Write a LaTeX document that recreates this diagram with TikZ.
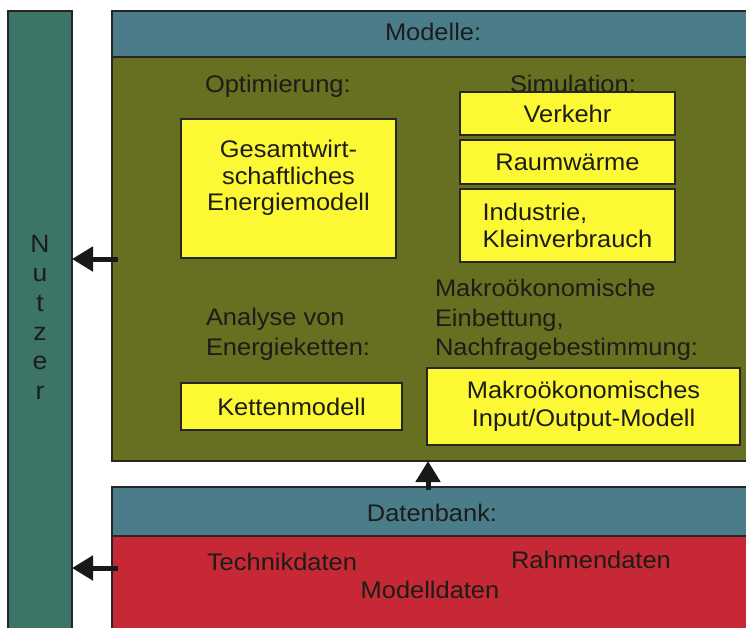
\documentclass[tikz,border=0pt]{standalone}
\usepackage{fontspec}
\setmainfont[FakeStretch=1.06]{Liberation Sans}
\usetikzlibrary{arrows.meta}
\definecolor{hdrblue}{RGB}{74,124,138}
\definecolor{nutzgreen}{RGB}{60,116,104}
\definecolor{olivebody}{RGB}{102,112,32}
\definecolor{dbred}{RGB}{198,40,54}
\definecolor{boxyellow}{RGB}{252,248,52}
\definecolor{txt}{RGB}{28,28,24}
\begin{document}
\begin{tikzpicture}[x=1pt,y=-1pt,
  panel/.style={draw=black!85, line width=1.2pt, inner sep=0pt, outer sep=0pt, anchor=north west},
  ybox/.style={panel, fill=boxyellow, align=center, text=txt, font=\fontsize{24}{27}\selectfont},
  lbl/.style={inner sep=0pt, outer sep=0pt, text=txt, font=\fontsize{24}{29.5}\selectfont},
  arr/.style={line width=5pt, draw=black!90, -{Triangle[length=21pt,width=24pt]}}]
\clip (0,0) rectangle (746,627);
\fill[white] (0,0) rectangle (746,627);

% user bar
\node[panel, fill=nutzgreen, minimum width=64pt, minimum height=640pt] (nutzer) at (8,11) {};
\node[lbl, anchor=north, align=center, font=\fontsize{25}{29.4}\selectfont] (nutzertext) at (40,235) {N\\u\\t\\z\\e\\r};

% models
\node[panel, fill=hdrblue, minimum width=650pt, minimum height=46pt] (modhead) at (112,11) {};
\node[panel, fill=olivebody, minimum width=650pt, minimum height=404pt] (modbody) at (112,57) {};
\node[lbl, anchor=base west] (modtitle) at (385,40) {Modelle:};

\node[lbl, anchor=base west] (optim) at (205,92) {Optimierung:};
\node[lbl, anchor=base west] (simul) at (510,92) {Simulation:};

\node[ybox, minimum width=215pt, minimum height=139pt] (gesamt) at (181,119) {};
\node[lbl, anchor=north, align=center, font=\fontsize{24}{26.5}\selectfont] (gesamttext) at (288.5,140.5) {Gesamtwirt-\\schaftliches\\Energiemodell};

\node[ybox, minimum width=215pt, minimum height=43pt] (verkehr) at (460,92) {Verkehr};
\node[ybox, minimum width=215pt, minimum height=44pt] (raum) at (460,140) {Raumwärme};
\node[ybox, minimum width=215pt, minimum height=73pt, align=left] (industrie) at (460,189) {Industrie,\\Kleinverbrauch};

\node[lbl, anchor=north west, align=left] (makrolbl) at (435,279.5) {Makroökonomische\\Einbettung,\\Nachfragebestimmung:};
\node[lbl, anchor=north west, align=left] (analyse) at (206,308.5) {Analyse von\\Energieketten:};

\node[ybox, minimum width=221pt, minimum height=47pt] (ketten) at (181,383) {Kettenmodell};
\node[ybox, minimum width=313pt, minimum height=77pt, font=\fontsize{24}{28}\selectfont] (makro) at (427,368) {Makroökonomisches\\Input/Output-Modell};

% database
\node[panel, fill=hdrblue, minimum width=650pt, minimum height=49pt] (dbhead) at (112,487) {};
\node[panel, fill=dbred, minimum width=650pt, minimum height=110pt] (dbbody) at (112,536) {};
\node[lbl, anchor=base] (dbtitle) at (432,521) {Datenbank:};
\node[lbl, anchor=base west] (technik) at (207,570) {Technikdaten};
\node[lbl, anchor=base west] (rahmen) at (511,568) {Rahmendaten};
\node[lbl, anchor=base] (modelldaten) at (430,598) {Modelldaten};

% arrows
\draw[arr] ([xshift=6pt]modbody.west |- 0,259) -- (nutzer.east |- 0,259);
\draw[arr] ([xshift=6pt]dbbody.west |- 0,568) -- (nutzer.east |- 0,568);
\draw[arr] ([yshift=-3pt]dbhead.north -| 428,0) -- (modbody.south -| 428,0);
\end{tikzpicture}
\end{document}
